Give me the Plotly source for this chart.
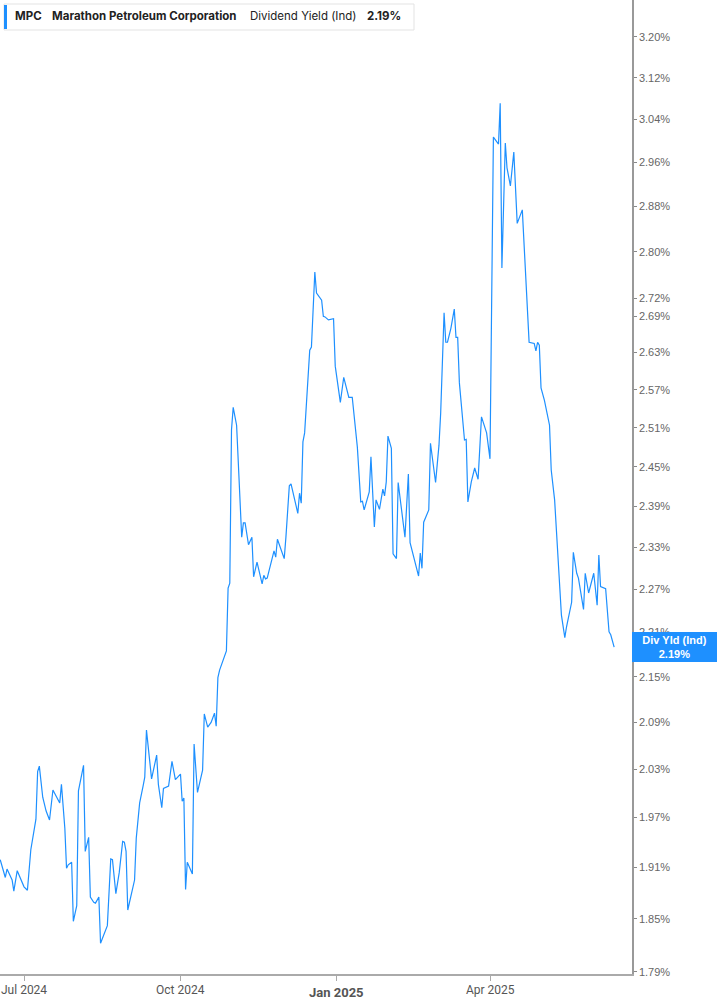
import math
import plotly.graph_objects as go

# ---- data ----
dates = [
    "2024-06-17", "2024-06-20", "2024-06-21", "2024-06-24", "2024-06-25", "2024-06-27",
    "2024-07-01", "2024-07-03", "2024-07-05", "2024-07-08", "2024-07-09", "2024-07-10",
    "2024-07-12", "2024-07-14", "2024-07-16", "2024-07-18", "2024-07-20", "2024-07-22",
    "2024-07-23", "2024-07-25", "2024-07-26", "2024-07-27", "2024-07-29", "2024-07-30",
    "2024-08-01", "2024-08-02", "2024-08-05", "2024-08-06", "2024-08-08", "2024-08-09",
    "2024-08-11", "2024-08-12", "2024-08-14", "2024-08-15", "2024-08-19", "2024-08-21",
    "2024-08-22", "2024-08-24", "2024-08-26", "2024-08-28", "2024-08-29", "2024-08-30",
    "2024-08-31", "2024-09-04", "2024-09-05", "2024-09-07", "2024-09-09", "2024-09-10",
    "2024-09-11", "2024-09-14", "2024-09-17", "2024-09-18", "2024-09-20", "2024-09-21",
    "2024-09-24", "2024-09-26", "2024-09-28", "2024-10-01", "2024-10-02", "2024-10-03",
    "2024-10-04", "2024-10-05", "2024-10-08", "2024-10-09", "2024-10-11", "2024-10-14",
    "2024-10-15", "2024-10-17", "2024-10-19", "2024-10-21", "2024-10-22", "2024-10-23",
    "2024-10-24", "2024-10-28", "2024-10-29", "2024-10-30", "2024-10-31", "2024-11-01",
    "2024-11-03", "2024-11-06", "2024-11-07", "2024-11-08", "2024-11-10", "2024-11-12",
    "2024-11-13", "2024-11-15", "2024-11-18", "2024-11-19", "2024-11-20", "2024-11-21",
    "2024-11-25", "2024-11-26", "2024-11-27", "2024-12-01", "2024-12-02", "2024-12-04",
    "2024-12-05", "2024-12-09", "2024-12-10", "2024-12-11", "2024-12-12", "2024-12-13",
    "2024-12-16", "2024-12-17", "2024-12-19", "2024-12-20", "2024-12-23", "2024-12-24",
    "2024-12-25", "2024-12-27", "2024-12-30", "2024-12-31", "2025-01-03", "2025-01-05",
    "2025-01-08", "2025-01-10", "2025-01-13", "2025-01-15", "2025-01-16", "2025-01-17",
    "2025-01-20", "2025-01-21", "2025-01-23", "2025-01-24", "2025-01-26", "2025-01-28",
    "2025-01-29", "2025-01-30", "2025-01-31", "2025-02-02", "2025-02-03", "2025-02-05",
    "2025-02-06", "2025-02-10", "2025-02-12", "2025-02-13", "2025-02-18", "2025-02-19",
    "2025-02-20", "2025-02-21", "2025-02-24", "2025-02-25", "2025-02-28", "2025-03-02",
    "2025-03-03", "2025-03-05", "2025-03-06", "2025-03-07", "2025-03-09", "2025-03-11",
    "2025-03-12", "2025-03-13", "2025-03-14", "2025-03-17", "2025-03-18", "2025-03-19",
    "2025-03-21", "2025-03-23", "2025-03-25", "2025-03-27", "2025-03-30", "2025-04-01",
    "2025-04-03", "2025-04-06", "2025-04-07", "2025-04-08", "2025-04-10", "2025-04-11",
    "2025-04-13", "2025-04-15", "2025-04-17", "2025-04-20", "2025-04-24", "2025-04-27",
    "2025-04-28", "2025-04-29", "2025-04-30", "2025-05-01", "2025-05-03", "2025-05-06",
    "2025-05-07", "2025-05-09", "2025-05-13", "2025-05-15", "2025-05-16", "2025-05-18",
    "2025-05-19", "2025-05-20", "2025-05-22", "2025-05-23", "2025-05-26", "2025-05-27",
    "2025-05-29", "2025-06-01", "2025-06-03", "2025-06-04", "2025-06-05", "2025-06-08",
    "2025-06-10", "2025-06-11", "2025-06-13",
]

div_yield = [
    1.919, 1.898, 1.908, 1.895, 1.882, 1.906,
    1.887, 1.883, 1.931, 1.968, 2.027, 2.034,
    1.995, 1.978, 1.967, 2.004, 1.996, 1.988,
    2.011, 1.957, 1.909, 1.913, 1.916, 1.847,
    1.865, 2.003, 2.035, 1.929, 1.946, 1.875,
    1.869, 1.868, 1.875, 1.822, 1.842, 1.920,
    1.919, 1.879, 1.904, 1.941, 1.940, 1.929,
    1.860, 1.895, 1.945, 1.988, 2.009, 2.020,
    2.080, 2.018, 2.048, 2.011, 1.982, 2.006,
    2.009, 2.040, 2.017, 2.024, 1.990, 1.994,
    1.884, 1.916, 1.902, 2.062, 2.001, 2.029,
    2.101, 2.084, 2.090, 2.102, 2.085, 2.149,
    2.159, 2.185, 2.272, 2.279, 2.507, 2.542,
    2.514, 2.345, 2.366, 2.366, 2.334, 2.345,
    2.288, 2.309, 2.278, 2.290, 2.285, 2.286,
    2.325, 2.316, 2.342, 2.314, 2.345, 2.421,
    2.424, 2.380, 2.410, 2.395, 2.488, 2.502,
    2.634, 2.639, 2.765, 2.729, 2.717, 2.690,
    2.689, 2.684, 2.686, 2.608, 2.550, 2.590,
    2.558, 2.558, 2.480, 2.397, 2.398, 2.385,
    2.412, 2.465, 2.360, 2.400, 2.386, 2.416,
    2.406, 2.427, 2.497, 2.478, 2.321, 2.314,
    2.426, 2.345, 2.439, 2.337, 2.289, 2.322,
    2.300, 2.367, 2.385, 2.486, 2.426, 2.483,
    2.533, 2.696, 2.647, 2.647, 2.670, 2.702,
    2.655, 2.655, 2.581, 2.491, 2.492, 2.397,
    2.427, 2.448, 2.431, 2.527, 2.502, 2.462,
    3.007, 2.994, 3.071, 2.772, 2.996, 2.950,
    2.917, 2.979, 2.850, 2.874, 2.647, 2.645,
    2.633, 2.647, 2.642, 2.573, 2.553, 2.514,
    2.445, 2.400, 2.234, 2.203, 2.218, 2.238,
    2.252, 2.323, 2.293, 2.286, 2.242, 2.293,
    2.265, 2.293, 2.248, 2.319, 2.274, 2.271,
    2.211, 2.207, 2.190,
]

y_ticks = [1.79, 1.85, 1.91, 1.97, 2.03, 2.09, 2.15, 2.21, 2.27, 2.33, 2.39, 2.45,
           2.51, 2.57, 2.63, 2.69, 2.72, 2.80, 2.88, 2.96, 3.04, 3.12, 3.20]
x_tick_dates = ["2024-07-01", "2024-10-01", "2025-01-01", "2025-04-01"]
x_tick_labels = ["Jul 2024", "Oct 2024", "Jan 2025", "Apr 2025"]

ticker = "MPC"
company = "Marathon Petroleum Corporation"
metric = "Dividend Yield (Ind)"
last_label = "Div Yld (Ind)"
last_value = div_yield[-1]

BLUE = "#1E90FF"
W, H = 717, 1005
ML, MR, MT, MB = 0, 85, 0, 31
PW, PH = W - ML - MR, H - MT - MB


def px(x):
    return x / PW


def py(y):
    return 1 - y / PH


fig = go.Figure()
fig.add_trace(go.Scatter(
    x=dates, y=div_yield, mode="lines",
    line=dict(color=BLUE, width=1.2),
    hoverinfo="skip", showlegend=False,
))

fig.update_layout(
    width=W, height=H,
    margin=dict(l=ML, r=MR, t=MT, b=MB, autoexpand=False),
    paper_bgcolor="white", plot_bgcolor="white",
    showlegend=False,
    xaxis=dict(
        range=["2024-06-16 21:00", "2025-06-23 12:00"],
        showgrid=False, zeroline=False,
        showline=True, linecolor="#aaaaaa", linewidth=2,
        ticks="outside", ticklen=5, tickcolor="#aaaaaa", tickwidth=1,
        tickvals=x_tick_dates, showticklabels=False,
    ),
    yaxis=dict(
        type="log", side="right",
        range=[0.25224, 0.51513],
        showgrid=False, zeroline=False,
        showline=True, linecolor="#999999", linewidth=1.5,
        ticks="outside", ticklen=3, tickcolor="#888888", tickwidth=1,
        tickvals=y_ticks, ticktext=[f"{v:.2f}%" for v in y_ticks],
        tickfont=dict(family="Liberation Sans, Arial", size=11, color="#666666"),
    ),
)

# x tick labels
for d, lab in zip(x_tick_dates, x_tick_labels):
    bold = lab.startswith("Jan")
    fig.add_annotation(
        x=d, xref="x", y=py(992 if bold else 990), yref="paper",
        text=f"<b>{lab}</b>" if bold else lab, showarrow=False,
        xanchor="center", yanchor="middle",
        font=dict(family="Liberation Sans Narrow, Roboto", size=13 if bold else 12,
                  color="#555555"),
    )

# legend box
fig.add_shape(type="rect", xref="paper", yref="paper",
              x0=px(4), x1=px(414), y0=py(30), y1=py(4),
              line=dict(color="#e3e3e3", width=1), fillcolor="white")
fig.add_shape(type="rect", xref="paper", yref="paper",
              x0=px(4), x1=px(7), y0=py(29), y1=py(5),
              line=dict(width=0), fillcolor=BLUE)
legend_parts = [(13, f"<b>{ticker}</b>"), (50, f"<b>{company}</b>"),
                (248, metric), (365, f"<b>{last_value:.2f}%</b>")]
for x0, t in legend_parts:
    fig.add_annotation(
        x=px(x0), xref="paper", y=py(16.5), yref="paper", text=t, showarrow=False,
        xanchor="left", yanchor="middle",
        font=dict(family="Inter, Roboto", size=11.5, color="#222222"),
    )

# last value label (log axis: annotation y in log10 units)
fig.add_annotation(
    x=1, xref="paper", y=math.log10(last_value), yref="y",
    text=f"<b>{last_label}</b><br><b>{last_value:.2f}%</b>", showarrow=False,
    xanchor="left", yanchor="middle", align="center",
    bgcolor=BLUE, borderpad=2, borderwidth=0, width=81, height=26,
    font=dict(family="Liberation Sans, Arial", size=11, color="white"),
)

fig.write_html(
    "out.html",
    config={"displayModeBar": False},
    post_script="document.body.style.margin='0';document.body.style.overflow='hidden';",
)
